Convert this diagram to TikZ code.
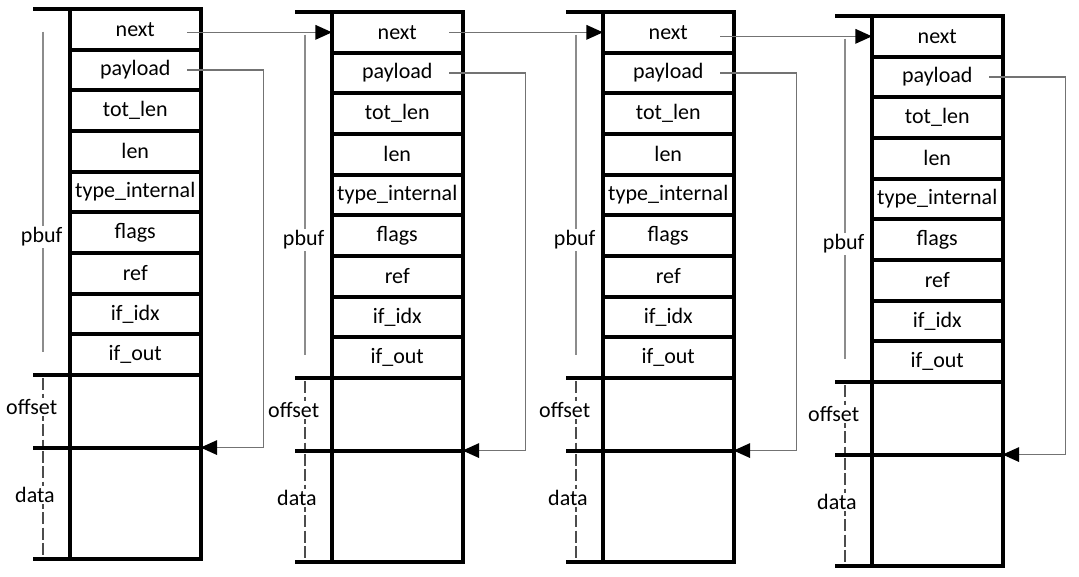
\documentclass[tikz,border=0pt]{standalone}
\usepackage{fontspec}
\setmainfont{Carlito}
\usetikzlibrary{arrows.meta}

\tikzset{
  field/.style={draw, line width=3pt, anchor=north west, minimum width=97.9pt,
    minimum height=30.5pt, inner sep=0pt, outer sep=0pt, font=\fontsize{16.5}{19}\selectfont},
  ext/.style={line width=3pt},
  dim/.style={draw=black!45, line width=1.1pt},
  dimdash/.style={draw=black!70, line width=1.1pt, dash pattern=on 9pt off 2.5pt},
  lab/.style={fill=white, inner sep=1pt, font=\fontsize{16.5}{19}\selectfont},
  ptr/.style={draw=black!55, line width=1pt, -{Triangle[length=12.5pt,width=11pt,black]}}
}

\begin{document}
\begin{tikzpicture}[x=0.75pt, y=-0.75pt]
  \useasboundingbox (0,0) rectangle (1079,576);

  \foreach \c/\x/\y in {1/70/9, 2/332/12, 3/603/12, 4/872/16} {
    % fields of one pbuf
    \foreach \f [count=\r] in {next, payload, tot\_len, len, type\_internal, flags, ref, if\_idx, if\_out}
      \node[field] (p\c-\r) at (\x, {\y+40.67*(\r-1)}) {\f};
    \node[field, minimum height=54.4pt] (o\c) at (p\c-9.south west) {};
    \node[field, minimum height=83.6pt] (d\c) at (o\c.south west) {};

    % extension lines on the left
    \draw[ext] ([xshift=-27.75pt]p\c-1.north west) -- (p\c-1.north west);
    \draw[ext] ([xshift=-27.75pt]o\c.north west) -- (o\c.north west);
    \draw[ext] ([xshift=-27.75pt]d\c.north west) -- (d\c.north west);
    \draw[ext] ([xshift=-27.75pt]d\c.south west) -- (d\c.south west);

    % size marks
    \draw[dim] ([xshift=-20.25pt, yshift=-17pt]p\c-1.north west) -- ([xshift=-20.25pt, yshift=17pt]p\c-9.south west)
      node[lab, pos=0.64, xshift=-1pt] {pbuf};
    \draw[dimdash] ([xshift=-20.25pt, yshift=-2.5pt]o\c.north west) -- ([xshift=-20.25pt, yshift=1.5pt]o\c.south west)
      node[lab, pos=0.43, xshift=-8.5pt] {offset};
    \draw[dimdash] ([xshift=-20.25pt, yshift=-2.5pt]d\c.north west) -- ([xshift=-20.25pt, yshift=2.5pt]d\c.south west)
      node[lab, pos=0.42, xshift=-6pt] {data};

    % payload points at the data
    \draw[ptr] ([xshift=-10pt]p\c-2.east) -- ++(57pt,0) |- (o\c.south east);
  }

  % next pointers
  \foreach \c/\n in {1/2, 2/3, 3/4}
    \draw[ptr] ([xshift=-10pt]p\c-1.east |- p\n-1.west) -- (p\n-1.west);
\end{tikzpicture}
\end{document}
